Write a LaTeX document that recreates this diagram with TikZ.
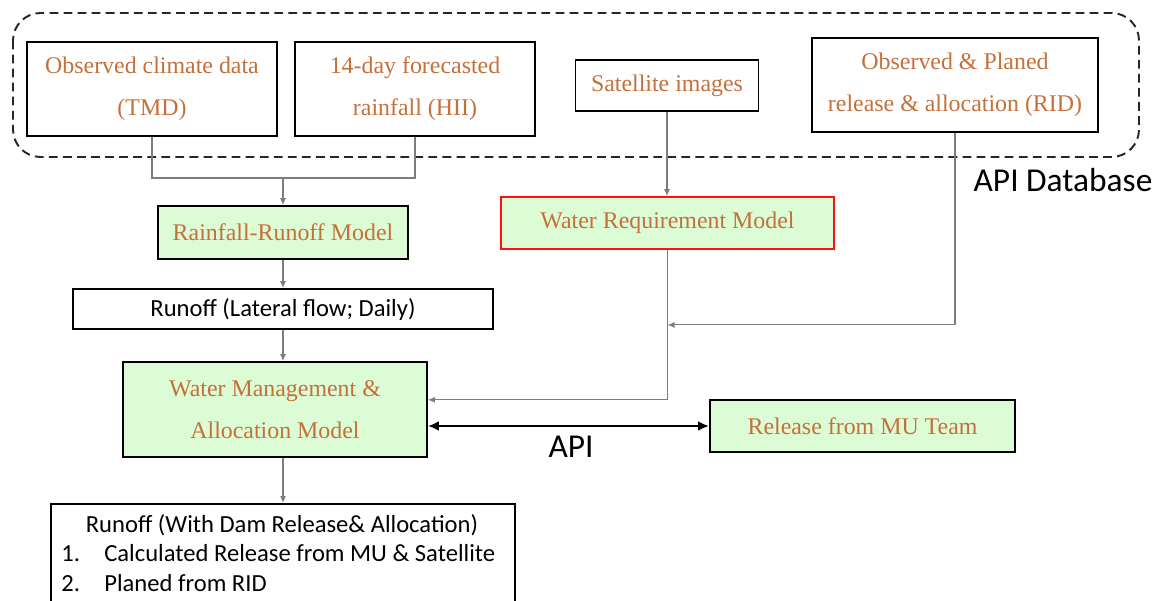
\documentclass[tikz,border=0pt]{standalone}
\usepackage{fontspec}
\setmainfont{Liberation Serif}
\newfontfamily\timesfont{Liberation Serif}
\newfontfamily\calibri{Carlito}
\usepackage{tikz}
\usepackage{xcolor}
\usetikzlibrary{arrows.meta,calc,positioning}
\definecolor{figText}{RGB}{196,112,58}
\definecolor{figFill}{RGB}{220,252,214}
\definecolor{figLine}{RGB}{125,125,125}
\definecolor{figRed}{RGB}{250,20,20}

\begin{document}
\begin{tikzpicture}[
  x=0.02cm,
  y=-0.02cm,
  >=Latex,
  font=\timesfont\fontsize{13.6}{23.8}\selectfont,
  source/.style={draw=black, line width=1.1pt, align=center, text=figText, inner sep=2pt, font=\timesfont\fontsize{13.6}{23.8}\selectfont},
  model/.style={source, fill=figFill},
  plain/.style={draw=black, line width=1.1pt, align=center, inner sep=2pt, font=\calibri\fontsize{14}{17}\selectfont},
  sanslabel/.style={font=\calibri\fontsize{14}{17}\selectfont, inner sep=0pt},
  biglabel/.style={font=\calibri\fontsize{19}{22}\selectfont, inner sep=0pt},
  feed/.style={draw=figLine, line width=0.6pt},
  line/.style={feed, -{Latex[length=1.4mm,width=1.2mm]}},
  apilink/.style={draw=black, line width=1.7pt, {Latex[length=2.2mm,width=2mm]}-{Latex[length=2.2mm,width=2mm]}},
  dbframe/.style={draw=black!85, line width=1.1pt, dash pattern=on 5pt off 3pt, rounded corners=0.55cm}
]
\useasboundingbox (0,0) rectangle (1163,601);

% API database group
\draw[dbframe] (13,13) rectangle (1139,157);
\node[source, minimum width=5.0cm, minimum height=1.88cm] (tmd) at (152,89) {Observed climate data\\(TMD)};
\node[source, minimum width=4.8cm, minimum height=1.88cm] (hii) at (415,89) {14-day forecasted\\rainfall (HII)};
\node[source, minimum width=3.66cm, minimum height=1.02cm] (sat) at (667,85.5) {Satellite images};
\node[source, minimum width=5.72cm, minimum height=1.88cm] (rid) at (955,85) {Observed \& Planed\\release \& allocation (RID)};
\node[biglabel] (dblabel) at (1063,180) {API Database};

% models
\node[model, minimum width=5.0cm, minimum height=1.06cm] (rrm) at (283,232.5) {Rainfall-Runoff Model};
\node[model, draw=figRed, minimum width=6.66cm, minimum height=1.04cm] (wrm) at (667.5,223) {Water Requirement Model};
\node[plain, minimum width=8.4cm, minimum height=0.8cm] (lat) at (283,309) {Runoff (Lateral flow; Daily)};
\node[model, minimum width=6.08cm, minimum height=1.9cm] (wma) at (275,409.5) {Water Management \&\\Allocation Model};
\node[model, minimum width=6.1cm, minimum height=1.04cm] (rel) at (862.5,426) {Release from MU Team};
\node[biglabel] (api) at (571,447) {API};

% output
\node[plain, minimum width=9.28cm, minimum height=2.6cm, anchor=north] (out) at (283,503) {};
\node[sanslabel] (outhead) at (282,525) {Runoff (With Dam Release\& Allocation)};
\node[sanslabel, anchor=west] (item1) at (61,553) {\makebox[0.86cm][l]{1.}Calculated Release from MU \& Satellite};
\node[sanslabel, anchor=west] (item2) at (61,583) {\makebox[0.86cm][l]{2.}Planed from RID};

% connectors
\coordinate (join) at (283,178);
\draw[feed] (tmd.south) |- (hii.south |- join) -- (hii.south);
\draw[line] (join) -- (rrm.north);
\draw[line] (sat.south) -- (sat.south |- wrm.north);
\draw[line] (rrm.south) -- (lat.north);
\draw[line] (lat.south) -- (lat.south |- wma.north);
\draw[line] (wrm.south) |- ($(wma.north east)!0.4!(wma.south east)$);
\draw[line] (rid.south) |- ($(wrm.south)+(0,75)$);
\draw[apilink] (wma.east |- rel.west) -- (rel.west);
\draw[line] (lat.south |- wma.south) -- (lat.south |- out.north);
\end{tikzpicture}
\end{document}
